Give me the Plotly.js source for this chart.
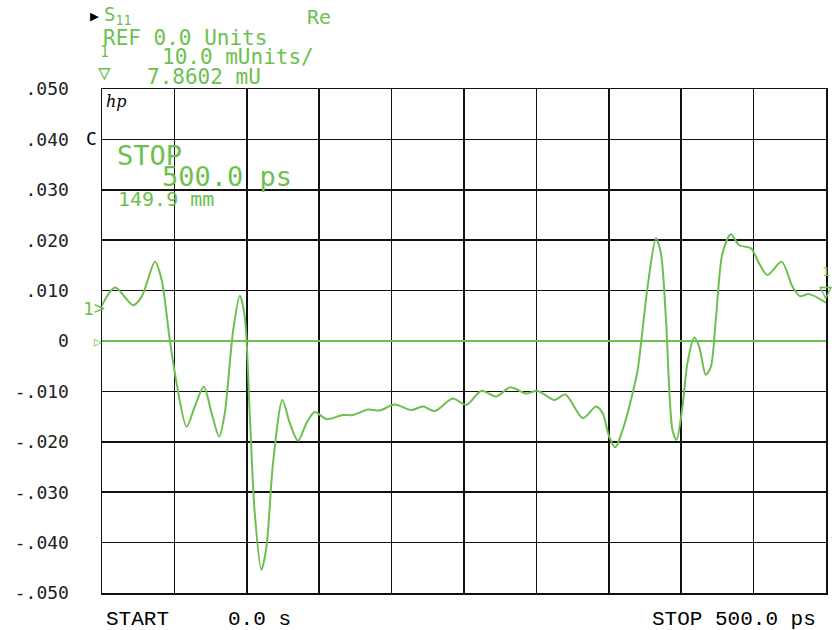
<!DOCTYPE html>
<html>
<head>
<meta charset="utf-8">
<script src="https://cdn.plot.ly/plotly-3.0.1.min.js"></script>
<style>html,body{margin:0;padding:0;background:#fff;}#chart{width:835px;height:630px;}</style>
</head>
<body>
<div id="chart"></div>
<script>
// Time axis (ps) and S11 real part (Units)
var timePs = [0, 9.0, 21.6, 27.4, 36.6, 41.2, 46.9, 51.5, 58.4, 64.1, 70.3, 75.7, 80.9, 84.8, 90.6, 95.2, 98.6, 102.1, 105.5, 110.1, 113.6, 118.1, 124.6, 129.7, 135.4, 141.2, 146.9, 155.0, 166.4, 173.3, 183.7, 191.7, 202.1, 213.6, 221.6, 229.7, 242.3, 251.5, 261.9, 272.2, 281.9, 292.9, 300.9, 312.4, 320.0, 332.0, 341.2, 345.7, 350.3, 354.5, 359.5, 365.3, 369.9, 376.8, 382.6, 386.0, 389.5, 394.0, 396.8, 400.9, 404.3, 409.0, 412.4, 417.0, 420.5, 423.9, 428.5, 434.3, 440.0, 448.1, 453.8, 459.5, 469.4, 476.8, 481.9, 488.3, 500];
var s11Re = [0.0071, 0.0106, 0.0071, 0.0088, 0.0157, 0.0121, 0.0000, -0.0083, -0.0170, -0.0130, -0.0091, -0.0143, -0.0190, -0.0143, 0.0022, 0.0090, 0.0048, -0.0150, -0.0342, -0.0454, -0.0408, -0.0243, -0.0117, -0.0163, -0.0198, -0.0163, -0.0141, -0.0155, -0.0147, -0.0147, -0.0136, -0.0138, -0.0126, -0.0137, -0.0130, -0.0139, -0.0114, -0.0127, -0.0099, -0.0110, -0.0092, -0.0104, -0.0099, -0.0117, -0.0106, -0.0153, -0.0130, -0.0143, -0.0190, -0.0211, -0.0177, -0.0117, -0.0058, 0.0108, 0.0204, 0.0174, 0.0042, -0.0177, -0.0196, -0.0130, -0.0044, 0.0007, -0.0011, -0.0067, -0.0051, 0.0042, 0.0174, 0.0212, 0.0190, 0.0184, 0.0154, 0.0131, 0.0157, 0.0108, 0.0089, 0.0093, 0.0076];
// Reference line
var refTime = [-10, 500];
var refValue = [0, 0];
// Axis ticks
var yTickVals = [0.05, 0.04, 0.03, 0.02, 0.01, 0, -0.01, -0.02, -0.03, -0.04, -0.05];
var yTickText = ['.050', '.040', '.030', '.020', '.010', '0', '-.010', '-.020', '-.030', '-.040', '-.050'];
var xTickVals = [0, 50, 100, 150, 200, 250, 300, 350, 400, 450, 500];

var GREEN = '#6dbf4f';
var L = 102, R = 826, T = 89, B = 593;
function px(x) { return (x - L) / (R - L); }
function py(y) { return (B - y) / (B - T); }
var mono = 'DejaVu Sans Mono, monospace';
var cour = 'Liberation Mono, DejaVu Sans Mono, monospace';

function ann(text, x, y, size, color, xanchor, family) {
  return {text: text, x: px(x), y: py(y), xref: 'paper', yref: 'paper', showarrow: false,
    xanchor: xanchor || 'left', yanchor: 'middle',
    font: {family: family || mono, size: size, color: color || GREEN}};
}

var annotations = [
  ann('\u25B6', 94, 16, 15, '#000', 'center'),
  ann('S<sub>11</sub>', 102, 15, 19),
  ann('Re', 305, 17, 20),
  ann('REF 0.0 Units', 101, 38, 21),
  ann('1', 104, 52, 15, GREEN, 'center'),
  ann('\u25BD', 104, 73, 21, GREEN, 'center'),
  ann('10.0 mUnits/', 160, 57, 21),
  ann('7.8602 mU', 145, 77, 21),
  ann('<i>hp</i>', 104, 101, 16, '#000', 'left', 'DejaVu Serif, serif'),
  ann('C', 91, 138, 18, '#000', 'center'),
  ann('STOP', 115, 155, 27),
  ann('500.0 ps', 160, 176, 27),
  ann('149.9 mm', 116, 199, 20),
  ann('1', 88, 308, 18, GREEN, 'center'),
  ann('>', 99, 307, 18, GREEN, 'center'),
  ann('\u25B7', 98, 341, 13, GREEN, 'center'),
  ann('1', 826, 271, 13, GREEN, 'center'),
  ann('\u25BD', 826, 291, 22, GREEN, 'center'),
  ann('START', 104, 619, 21, '#000', 'left', cour),
  ann('0.0 s', 226, 619, 21, '#000', 'left', cour),
  ann('STOP 500.0 ps', 818, 619, 21, '#000', 'right', cour)
];

var data = [
  {x: refTime, y: refValue, type: 'scatter', mode: 'lines', line: {color: GREEN, width: 2}, hoverinfo: 'skip', cliponaxis: false},
  {x: timePs, y: s11Re, type: 'scatter', mode: 'lines', line: {color: GREEN, width: 2, shape: 'spline', smoothing: 0.8}}
];

var layout = {
  width: 835, height: 630,
  margin: {l: L, r: 835 - R, t: T, b: 630 - B},
  paper_bgcolor: '#fff', plot_bgcolor: '#fff',
  showlegend: false,
  xaxis: {range: [0, 500], tickvals: xTickVals, showticklabels: false, showgrid: true,
    gridcolor: '#111', gridwidth: 1.5, zeroline: false, showline: true, linecolor: '#111', linewidth: 1.5, mirror: true, ticks: ''},
  yaxis: {range: [-0.05, 0.05], tickvals: yTickVals, ticktext: yTickText, showgrid: true,
    gridcolor: '#111', gridwidth: 1.5, zeroline: false, showline: true, linecolor: '#111', linewidth: 1.5, mirror: true,
    ticks: 'outside', ticklen: 28, tickcolor: 'rgba(0,0,0,0)',
    tickfont: {family: mono, size: 18, color: '#222'}},
  annotations: annotations
};

Plotly.newPlot('chart', data, layout, {displayModeBar: false, staticPlot: true});
</script>
</body>
</html>
